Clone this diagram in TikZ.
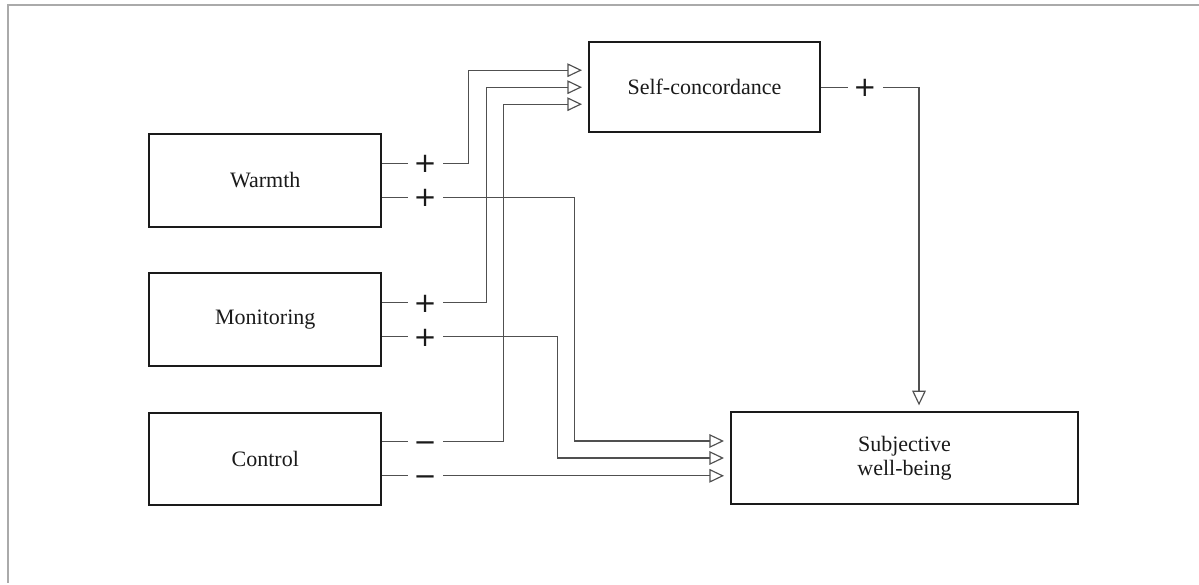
\documentclass[tikz,border=0pt]{standalone}
\usepackage{fontspec}
\setmainfont{Liberation Serif}
\newfontfamily\signfont{DejaVu Sans}
\usetikzlibrary{arrows.meta,calc}
\definecolor{framegray}{HTML}{AAAAAA}
\definecolor{ink}{HTML}{1A1A1A}
\definecolor{wire}{HTML}{505050}
\tikzset{
  box/.style={draw=ink, line width=1.2pt, text=ink, inner sep=0pt,
    minimum width=139pt, minimum height=55.5pt, align=center,
    font=\fontsize{13.2}{14.2}\selectfont},
  conn/.style={draw=wire, line width=0.7pt, shorten >=3.6pt,
    -{Triangle[open, length=8.8pt, width=8.2pt]}},
  sign/.style={fill=white, inner sep=0pt, minimum width=21pt, text=ink,
    text height=11.2pt, text depth=0pt,
    font=\signfont\fontsize{16.5}{16.5}\selectfont},
}
\begin{document}
\begin{tikzpicture}[x=0.6pt, y=-0.6pt]
\useasboundingbox (0,0) rectangle (1199,585);
% page frame
\draw[framegray, line width=1.2pt] (7.7,583) -- (7.7,4.7) -- (1199,4.7);

% parenting dimensions
\node[box] (warmth) at (265.3,180.3) {Warmth};
\node[box] (monitor) at (265.3,319.7) {Monitoring};
\node[box] (control) at (265.3,458.8) {Control};
% mediator and outcome
\node[box, minimum width=138.6pt, minimum height=54.3pt] (sc) at (704.5,87.2) {Self-concordance};
\node[box, minimum width=208.2pt, minimum height=54.8pt] (swb) at (904.5,458) {Subjective\\well-being};

% paths to self-concordance
\draw[conn] ($(warmth.east)+(0,-17)$) -- ++(43,0) node[sign]{+}
  -- ++(43,0) |- ($(sc.west)+(0,-17)$);
\draw[conn] ($(monitor.east)+(0,-17)$) -- ++(43,0) node[sign]{+}
  -- ++(61,0) |- (sc.west);
\draw[conn] ($(control.east)+(0,-17)$) -- ++(43,0) node[sign]{−}
  -- ++(78,0) |- ($(sc.west)+(0,17)$);

% direct paths to subjective well-being
\draw[conn] ($(warmth.east)+(0,17)$) -- ++(43,0) node[sign]{+}
  -- ++(149,0) |- ($(swb.west)+(0,-17)$);
\draw[conn] ($(monitor.east)+(0,17)$) -- ++(43,0) node[sign]{+}
  -- ++(132,0) |- (swb.west);
\draw[conn] ($(control.east)+(0,17)$) coordinate (c2) -- ++(43,0) node[sign]{−}
  -- (c2 -| swb.west);

% mediator to outcome
\draw[conn] (sc.east) -- ++(44,0) node[sign]{+}
  -| ($(swb.north)+(14.5,0)$);
\end{tikzpicture}
\end{document}
